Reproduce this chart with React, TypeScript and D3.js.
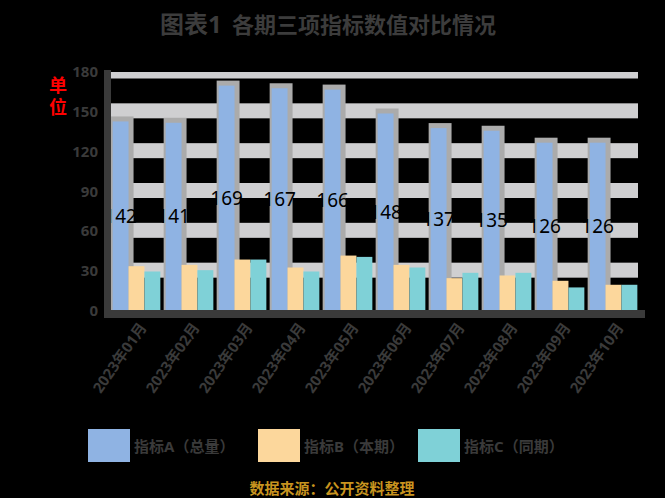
import React from "react";
import * as d3 from "d3";

const categories = ["2023年01月", "2023年02月", "2023年03月", "2023年04月", "2023年05月", "2023年06月", "2023年07月", "2023年08月", "2023年09月", "2023年10月"];
const seriesNames = ["指标A（总量）", "指标B（本期）", "指标C（同期）"];
const seriesA = [142, 141, 169, 167, 166, 148, 137, 135, 126, 126];
const seriesB = [33, 34, 38, 32, 41, 34, 24, 26, 22, 19];
const seriesC = [29, 30, 38, 29, 40, 32, 28, 28, 17, 19];
const yTicks = [0, 30, 60, 90, 120, 150, 180];
const titleLead = "图表1";
const titleMain = "各期三项指标数值对比情况";
const sourceNote = "数据来源：公开资料整理";

const colors = ["#8fb3e3", "#fcd79c", "#7fd1d7"];
const W = 665;
const H = 498;
const FONT = "'Noto Sans', 'Noto Sans CJK SC', sans-serif";

export default function App() {
  const x = d3.scaleBand<string>().domain(categories).range([110, 640]).paddingInner(0.1).paddingOuter(0.05);
  const xs = d3.scaleBand<string>().domain(seriesNames).range([0, x.bandwidth()]).padding(0);
  const y = d3.scaleLinear().domain([0, 180]).range([310, 71]);
  const series = [seriesA, seriesB, seriesC];
  const plotTop = 72;
  const bw = xs.bandwidth();

  return (
    <svg width={W} height={H} style={{ position: "absolute", left: 0, top: 0 }} fontFamily={FONT}>
      <defs>
        <clipPath id="plotClip">
          <rect x={110} y={plotTop} width={530} height={310 - plotTop} />
        </clipPath>
      </defs>
      <rect x={0} y={0} width={W} height={H} fill="#000" />

      {/* title */}
      <text x={160} y={33} fontSize={24} fontWeight="bold" fill="#3c3c3c">{titleLead}</text>
      <text x={232} y={33} fontSize={22} fontWeight="bold" fill="#3c3c3c">{titleMain}</text>

      {/* red unit label */}
      <text x={58} y={92} fontSize={18} fontWeight="bold" fill="#ff0000" textAnchor="middle">单</text>
      <text x={58} y={114} fontSize={18} fontWeight="bold" fill="#ff0000" textAnchor="middle">位</text>

      {/* gridlines */}
      <g clipPath="url(#plotClip)">
        {yTicks.filter((t) => t > 0).map((t) => (
          <rect key={t} x={111} y={y(t) - 7.5} width={527} height={15} fill="#cfcfd1" />
        ))}
      </g>

      {/* y tick labels */}
      {yTicks.map((t) => (
        <text key={t} x={98} y={y(t)} fontSize={15} fontWeight="bold" fill="#3a3a3a" textAnchor="end" dominantBaseline="central">
          {t}
        </text>
      ))}

      {/* bars */}
      {categories.map((c, i) => {
        const gx = x(c)!;
        const bx = gx + xs(seriesNames[0])!;
        const top = y(seriesA[i]);
        return (
          <g key={c}>
            <rect x={bx - 2} y={top - 5} width={bw + 7} height={310 - top + 5} fill="#ababab" />
            {series.map((s, k) => (
              <rect key={k} x={gx + xs(seriesNames[k])!} y={y(s[i])} width={bw} height={310 - y(s[i])} fill={colors[k]} />
            ))}
            <text x={bx + bw / 2} y={(top + 310) / 2} fontSize={19} fill="#000" textAnchor="middle" dominantBaseline="central">
              {seriesA[i]}
            </text>
          </g>
        );
      })}

      {/* axes */}
      <rect x={104} y={70} width={7} height={248} fill="#3a3a3a" />
      <rect x={104} y={310} width={541} height={8} fill="#3a3a3a" />

      {/* x labels */}
      {categories.map((c) => {
        const cx = x(c)! + x.bandwidth() / 2 + 6;
        return (
          <text key={c} transform={`translate(${cx},${324}) rotate(-55)`} fontSize={15} fontWeight="bold" fill="#3a3a3a" textAnchor="end" dominantBaseline="central">
            {c}
          </text>
        );
      })}

      {/* legend */}
      {seriesNames.map((n, k) => {
        const lx = [88, 258, 418][k];
        return (
          <g key={n}>
            <rect x={lx} y={429} width={42} height={33} fill={colors[k]} />
            <text x={lx + 46} y={446} fontSize={15} fontWeight="bold" fill="#3a3a3a" dominantBaseline="central">{n}</text>
          </g>
        );
      })}

      {/* source */}
      <text x={332} y={488} fontSize={15} fontWeight="bold" fill="#c8941f" textAnchor="middle" dominantBaseline="central">{sourceNote}</text>
    </svg>
  );
}
